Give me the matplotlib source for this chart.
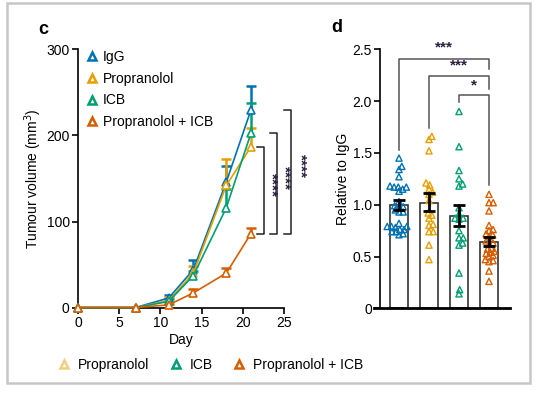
import numpy as np
from matplotlib import pyplot as plt
from matplotlib.lines import Line2D
import matplotlib.patches as mpatches

plt.rcParams['font.family'] = ['Liberation Sans', 'DejaVu Sans']
plt.rcParams['font.size'] = 10

# cores (Okabe-Ito)
c_igg = '#0072B2'
c_prop = '#E69F00'
c_icb = '#009E73'
c_combo = '#D55E00'

# painel c: volume tumoral
days = [0, 7, 11, 14, 18, 21]
igg_vol = [0, 0, 11, 44, 146, 230]
igg_err = [0, 0, 3, 11, 18, 27]
prop_vol = [0, 0, 8, 40, 142, 187]
prop_err = [0, 0, 4, 8, 31, 22]
icb_vol = [0, 0, 7, 37, 116, 203]
icb_err = [0, 0, 3, 6, 22, 35]
combo_vol = [0, 0, 3, 17, 40, 86]
combo_err = [0, 0, 1, 4, 6, 7]
series_labels = ['IgG', 'Propranolol', 'ICB', 'Propranolol + ICB']

# painel d: relativo a IgG
groups = ['IgG', 'Propranolol', 'ICB', 'Propranolol + ICB']
bar_means = [1.00, 1.02, 0.89, 0.64]
bar_lo = [0.95, 0.94, 0.79, 0.60]
bar_hi = [1.05, 1.11, 1.00, 0.69]
igg_pts = [1.45, 1.37, 1.34, 1.27, 1.18, 1.17, 1.17, 1.17, 1.13, 1.15,
           0.99, 0.98, 1.03, 0.95, 0.93, 0.93, 0.98, 0.82, 0.79, 0.79,
           0.79, 0.78, 0.76, 0.74, 0.74, 0.71, 0.72, 0.76]
prop_pts = [1.66, 1.63, 1.52, 1.21, 1.19, 1.15, 1.12, 1.10, 1.04, 0.90,
            0.92, 0.87, 0.81, 0.80, 0.74, 0.74, 0.61, 0.47]
icb_pts = [1.90, 1.56, 1.33, 1.25, 1.20, 1.18, 0.97, 0.91, 0.87, 0.86,
           0.87, 0.75, 0.68, 0.68, 0.63, 0.61, 0.34, 0.18, 0.14]
combo_pts = [1.10, 1.02, 1.02, 0.94, 0.80, 0.75, 0.76, 0.72, 0.71, 0.69,
             0.65, 0.62, 0.63, 0.57, 0.58, 0.54, 0.55, 0.53, 0.51, 0.50,
             0.47, 0.45, 0.46, 0.36, 0.26]


def swarm(vals, center, xscale, yscale, d):
    # posiciona os pontos lado a lado sem sobreposicao (beeswarm simples)
    vals = np.asarray(vals)
    xs = np.zeros(len(vals))
    placed = []
    for i in np.argsort(vals):
        y = vals[i] * yscale
        cand = [0.0]
        for px, py in placed:
            dy = y - py
            if abs(dy) < d:
                dx = np.sqrt(d * d - dy * dy)
                cand += [px + dx, px - dx]
        cand.sort(key=abs)
        for c in cand:
            if all((c - px) ** 2 + (y - py) ** 2 >= d * d - 1e-6 for px, py in placed):
                break
        placed.append((c, y))
        xs[i] = center + c / xscale
    return xs


fig = plt.figure(figsize=(5.37, 3.94), dpi=100)

# moldura cinza
fig.patches.append(mpatches.Rectangle((7 / 537, 1 - 383 / 394), 523 / 537, 380 / 394,
                                      transform=fig.transFigure, fill=False,
                                      edgecolor='#c9c5c5', linewidth=1.8))

# ---------- painel c ----------
ax = fig.add_axes([78 / 537, 1 - 307.5 / 394, 206 / 537, 258 / 394])
vols = [igg_vol, prop_vol, icb_vol, combo_vol]
errs = [igg_err, prop_err, icb_err, combo_err]
cols = [c_igg, c_prop, c_icb, c_combo]
for v, e, c, lab in zip(vols, errs, cols, series_labels):
    v = np.array(v)
    e = np.array(e)
    ax.plot(days, v, color=c, linewidth=1.2, marker='^', markersize=5.5,
            markerfacecolor='white', markeredgecolor=c, markeredgewidth=1.2,
            label=lab, clip_on=False, zorder=3)
    m = e > 0
    ax.vlines(np.array(days)[m], v[m], (v + e)[m], color=c, linewidth=1.8, zorder=2)
    ax.plot(np.array(days)[m], (v + e)[m], linestyle='none', marker='_',
            markersize=7, markeredgewidth=1.8, color=c, zorder=2)

ax.set_xlim(0, 25)
ax.set_ylim(0, 300)
ax.set_xticks([0, 5, 10, 15, 20, 25])
ax.set_yticks([0, 100, 200, 300])
ax.spines['top'].set_visible(False)
ax.spines['right'].set_visible(False)
for s in ['left', 'bottom']:
    ax.spines[s].set_linewidth(1.2)
ax.tick_params(width=1.2, length=4, labelsize=10, pad=2)
ax.set_xlabel('Day', fontsize=10, labelpad=2)
ax.set_ylabel('Tumour volume (mm$^3$)', fontsize=10, labelpad=2)

leg_handles = [Line2D([], [], linestyle='none', marker='^', markersize=6,
                      markerfacecolor='white', markeredgecolor=c, markeredgewidth=1.8)
               for c in cols]
ax.legend(leg_handles, series_labels, loc='upper left', bbox_to_anchor=(0.0, 1.03),
          frameon=False, handlelength=0.8, handletextpad=0.4, labelspacing=0.55,
          borderaxespad=0.2, fontsize=10)

# colchetes de significancia
brackets = [(22.6, 187), (24.2, 203), (25.9, 230)]
star_x = [23.5, 25.1, 26.95]
star_y = [142, 150, 164]
for (bx, top), sx, sy in zip(brackets, star_x, star_y):
    ax.plot([bx - 0.85, bx, bx, bx - 0.85], [top, top, 86, 86], color='#222222',
            linewidth=1.1, clip_on=False)
    ax.text(sx, sy, '****', rotation=-90, ha='center', va='center', fontsize=11,
            fontweight='bold', color='#2a2040', clip_on=False)

fig.text(38 / 537, 1 - 30 / 394, 'c', fontsize=13, fontweight='bold', ha='left', va='center')

# ---------- painel d ----------
ax2 = fig.add_axes([374 / 537, 1 - 308.3 / 394, 136 / 537, 259 / 394])
xpos = np.arange(4)
ax2.bar(xpos, bar_means, width=0.63, color='white', edgecolor='#333333', linewidth=1.2, zorder=1)
pts = [igg_pts, prop_pts, icb_pts, combo_pts]
for i, (p, c) in enumerate(zip(pts, cols)):
    xs = swarm(p, i, 30.0, 103.6, 4.2)
    ax2.scatter(xs, p, marker='^', s=20, facecolors='none', edgecolors=c,
                linewidths=1.0, zorder=2, clip_on=False)
yerr = [np.array(bar_means) - np.array(bar_lo), np.array(bar_hi) - np.array(bar_means)]
ax2.errorbar(xpos, bar_means, yerr=yerr, fmt='none', ecolor='black', elinewidth=2,
             capsize=4, capthick=2, zorder=4)

ax2.set_xlim(-0.833, 3.7)
ax2.set_ylim(0, 2.5)
ax2.set_xticks([])
ax2.set_yticks([0, 0.5, 1.0, 1.5, 2.0, 2.5])
ax2.set_yticklabels(['0', '0.5', '1.0', '1.5', '2.0', '2.5'])
ax2.spines['top'].set_visible(False)
ax2.spines['right'].set_visible(False)
ax2.spines['left'].set_position(('data', -0.63))
ax2.spines['left'].set_linewidth(1.2)
ax2.spines['bottom'].set_linewidth(2)
ax2.tick_params(axis='y', width=1.2, length=4, labelsize=10, pad=2)
ax2.set_ylabel('Relative to IgG', fontsize=10, labelpad=2)

sig = [(0, 3, 2.41, 1.53, 2.31, '***', 2.52),
       (1, 3, 2.24, 1.74, 2.12, '***', 2.34),
       (2, 3, 2.06, 1.99, 1.19, '*', 2.15)]
for x1, x2, h, l1, l2, txt, ty in sig:
    ax2.plot([x1, x1, x2, x2], [l1, h, h, l2], color='#555555', linewidth=1.1,
             clip_on=False, zorder=1)
    ax2.text((x1 + x2) / 2, ty, txt, ha='center', va='center', fontsize=11,
             fontweight='bold', color='#2a2040', clip_on=False)

fig.text(331 / 537, 1 - 28 / 394, 'd', fontsize=13, fontweight='bold', ha='left', va='center')

# legenda inferior
bottom_handles = [
    Line2D([], [], linestyle='none', marker='^', markersize=6, markerfacecolor='white',
           markeredgecolor='#F2CF80', markeredgewidth=1.8),
    Line2D([], [], linestyle='none', marker='^', markersize=6, markerfacecolor='white',
           markeredgecolor=c_icb, markeredgewidth=1.8),
    Line2D([], [], linestyle='none', marker='^', markersize=6, markerfacecolor='white',
           markeredgecolor=c_combo, markeredgewidth=1.8),
]
fig.legend(bottom_handles, ['Propranolol', 'ICB', 'Propranolol + ICB'], loc='center left',
           bbox_to_anchor=(46 / 537, 1 - 365 / 394), ncol=3, frameon=False,
           handlelength=0.8, handletextpad=0.6, columnspacing=1.5, fontsize=10)

fig.savefig('out.png', dpi=100)
